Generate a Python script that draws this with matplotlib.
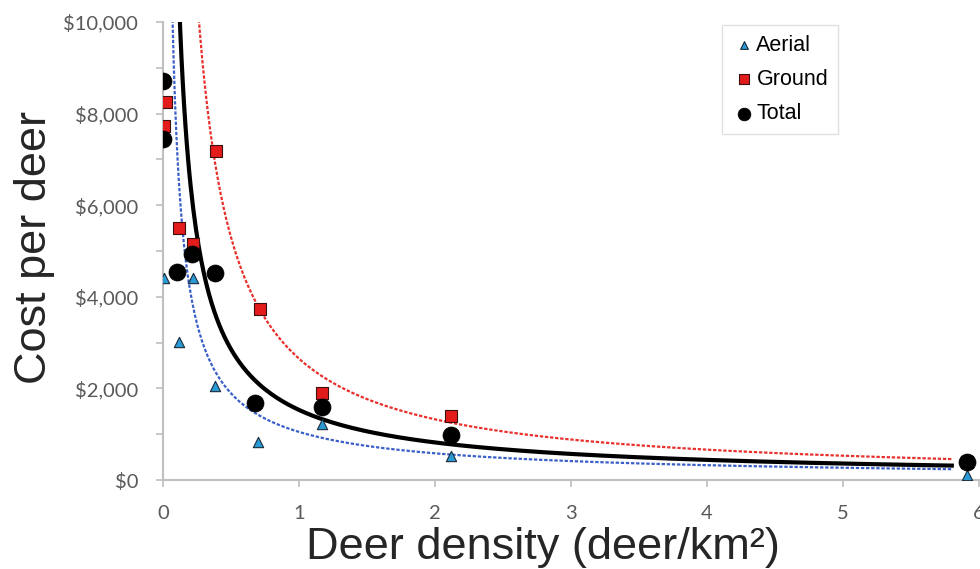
import numpy as np
import matplotlib
matplotlib.use("Agg")
import matplotlib.pyplot as plt
from matplotlib.ticker import FuncFormatter, MultipleLocator

# ---- data ----
aerial_x = [0.01, 0.12, 0.22, 0.38, 0.70, 1.17, 2.12, 5.91]
aerial_y = [4410, 3010, 4410, 2050, 830, 1220, 520, 120]

ground_x = [0.02, 0.01, 0.39, 0.12, 0.22, 0.71, 1.17, 2.12, 5.91]
ground_y = [8260, 7730, 7180, 5500, 5150, 3730, 1900, 1400, 400]

total_x = [0.00, 0.00, 0.10, 0.21, 0.38, 0.68, 1.17, 2.12, 5.91]
total_y = [8710, 7450, 4540, 4930, 4520, 1680, 1590, 980, 390]

# power-law trendline coefficients (cost = a * density ** b)
aerial_fit = (1050, -0.85)
ground_fit = (2650, -1.0)
total_fit = (1530, -0.9)
fit_range = (0.05, 5.8)

x_ticks = [0, 1, 2, 3, 4, 5, 6]
y_ticks = [0, 2000, 4000, 6000, 8000, 10000]

# ---- figure ----
fig = plt.figure(figsize=(9.8, 5.69), dpi=100)
ax = fig.add_axes([163/980, 1-480/569, (979-163)/980, (480-22)/569])
ax.set_facecolor("white")

xx = np.linspace(fit_range[0], fit_range[1], 600)
ax.plot(xx, aerial_fit[0]*xx**aerial_fit[1], color="#3a5fc8", lw=1.6,
        ls=(0, (1.5, 0.8)), zorder=2)
ax.plot(xx, ground_fit[0]*xx**ground_fit[1], color="#e8302c", lw=1.6,
        ls=(0, (1.5, 0.8)), zorder=2)
ax.plot(xx, total_fit[0]*xx**total_fit[1], color="black", lw=3.0, zorder=2)

ax.scatter(aerial_x, aerial_y, marker="^", s=55, color="#2a9ad4",
           edgecolor="#1a2a3a", linewidth=0.8, zorder=3, label="Aerial")
ax.scatter(ground_x, ground_y, marker="s", s=75, color="#e31b1b",
           edgecolor="#3a1010", linewidth=0.8, zorder=3, label="Ground")
ax.scatter(total_x, total_y, marker="o", s=150, color="black",
           edgecolor="black", linewidth=0.5, zorder=4, label="Total")

ax.set_xlim(0, 6)
ax.set_ylim(0, 10000)
ax.set_xticks(x_ticks)
ax.set_yticks(y_ticks)
ax.yaxis.set_minor_locator(MultipleLocator(1000))
ax.yaxis.set_major_formatter(FuncFormatter(lambda v, p: "${:,.0f}".format(v)))

for s in ["top", "right"]:
    ax.spines[s].set_visible(False)
for s in ["left", "bottom"]:
    ax.spines[s].set_color("#bfbfbf")
    ax.spines[s].set_linewidth(1.5)

ax.tick_params(axis="both", which="both", colors="#bfbfbf", direction="out",
               length=5, width=1.2, labelcolor="#595959")
ax.tick_params(axis="y", pad=13)
ax.tick_params(axis="x", pad=13)
for lab in ax.get_xticklabels() + ax.get_yticklabels():
    lab.set_fontfamily("Lato")
    lab.set_fontsize(14.5)

ax.set_xlabel("Deer density (deer/km²)", fontsize=32.5, family="Liberation Sans",
              color="#262626")
ax.xaxis.set_label_coords((543-163)/816, -(548-480)/458)
ax.xaxis.label.set_va("center")
ax.set_ylabel("Cost per deer", fontsize=32.5, family="Liberation Sans",
              color="#262626")
ax.yaxis.set_label_coords(-(163-35)/816, (480-247)/458)
ax.yaxis.label.set_va("center")

leg = ax.legend(loc="upper left", bbox_to_anchor=((722-163)/816, 1-(25-22)/458),
                prop={"family": "Liberation Sans", "size": 15.5},
                frameon=True, fancybox=False, edgecolor="#d9d9d9",
                handletextpad=0.05, handlelength=1.1, borderpad=0.45,
                labelspacing=0.62, markerscale=0.75, borderaxespad=0)
leg.get_frame().set_linewidth(1.0)

fig.savefig("out.png", dpi=100, facecolor="white")
